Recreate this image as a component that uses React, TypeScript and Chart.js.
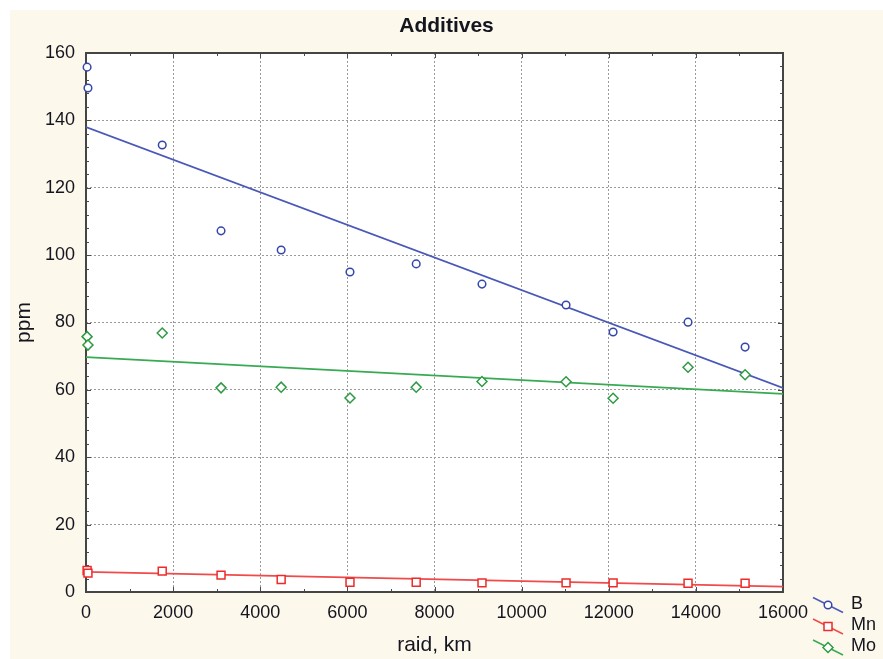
import React, { useEffect, useRef } from 'react';
import { Chart, registerables } from 'chart.js';
Chart.register(...registerables);

// ---- data ----
const raid = [25, 45, 1750, 3100, 4480, 6060, 7580, 9090, 11020, 12100, 13820, 15130];
const ppmB = [155.8, 149.6, 132.7, 107.2, 101.5, 95.0, 97.4, 91.4, 85.2, 77.2, 80.1, 72.7];
const ppmMn = [6.4, 5.6, 6.2, 5.0, 3.7, 2.9, 2.9, 2.7, 2.7, 2.7, 2.6, 2.6];
const ppmMo = [75.8, 73.3, 76.9, 60.6, 60.8, 57.6, 60.8, 62.5, 62.4, 57.5, 66.7, 64.5];
const fitRaid = [0, 16000];
const fitB = [138.0, 60.6];
const fitMn = [6.0, 1.6];
const fitMo = [69.7, 58.8];
const seriesNames = ['B', 'Mn', 'Mo'];
const xTickStep = 2000;
const yTickStep = 20;

const BLUE_PT = '#3447a8';
const BLUE_LN = '#4a58b8';
const RED_PT = '#ee2a2a';
const RED_LN = '#f04a4a';
const GREEN_PT = '#2e9a44';
const GREEN_LN = '#38aa52';
const FONT = '"Liberation Sans", Arial, sans-serif';
const TEXT = '#151520';

const pts = (ys: number[]) => ys.map((y, i) => ({ x: raid[i], y }));
const fit = (ys: number[]) => ys.map((y, i) => ({ x: fitRaid[i], y }));

function drawMarker(ctx: CanvasRenderingContext2D, style: string, x: number, y: number, color: string) {
  ctx.save();
  ctx.beginPath();
  if (style === 'circle') ctx.arc(x, y, 3.8, 0, Math.PI * 2);
  else if (style === 'rect') ctx.rect(x - 4, y - 4, 8, 8);
  else {
    ctx.moveTo(x - 5, y); ctx.lineTo(x, y - 5); ctx.lineTo(x + 5, y); ctx.lineTo(x, y + 5); ctx.closePath();
  }
  ctx.fillStyle = '#ffffff';
  ctx.fill();
  ctx.strokeStyle = color;
  ctx.lineWidth = 1.5;
  ctx.stroke();
  ctx.restore();
}

const bgPlugin = {
  id: 'bgPlugin',
  beforeDraw(chart: any) {
    const { ctx, width, height, chartArea: a } = chart;
    ctx.save();
    ctx.fillStyle = '#ffffff';
    ctx.fillRect(0, 0, width, height);
    ctx.fillStyle = '#fcf8ec';
    ctx.fillRect(10, 10, width - 10, height - 10);
    ctx.fillStyle = '#ffffff';
    ctx.fillRect(a.left, a.top, a.right - a.left, a.bottom - a.top);
    ctx.restore();
  },
  beforeDatasetsDraw(chart: any) {
    const { ctx, chartArea: a, scales } = chart;
    const xs = scales.x, ys = scales.y;
    ctx.save();
    ctx.strokeStyle = '#4a4a4a';
    ctx.lineWidth = 1;
    for (let v = 0; v <= 16000; v += 1000) {
      const px = Math.round(xs.getPixelForValue(v)) + 0.5;
      const len = v % 2000 === 0 ? 5 : 3;
      ctx.beginPath();
      ctx.moveTo(px, a.bottom); ctx.lineTo(px, a.bottom - len);
      ctx.moveTo(px, a.top); ctx.lineTo(px, a.top + len);
      ctx.stroke();
    }
    for (let v = 0; v <= 160; v += 4) {
      const py = Math.round(ys.getPixelForValue(v)) + 0.5;
      const len = v % 20 === 0 ? 5 : 3;
      ctx.beginPath();
      ctx.moveTo(a.left, py); ctx.lineTo(a.left + len, py);
      ctx.moveTo(a.right, py); ctx.lineTo(a.right - len, py);
      ctx.stroke();
    }
    ctx.strokeStyle = '#454545';
    ctx.lineWidth = 2;
    ctx.strokeRect(a.left, a.top, a.right - a.left, a.bottom - a.top);
    ctx.restore();
  },
  afterDraw(chart: any) {
    const { ctx } = chart;
    const items = [
      { ln: BLUE_LN, pt: BLUE_PT, style: 'circle', y: 605 },
      { ln: RED_LN, pt: RED_PT, style: 'rect', y: 626.5 },
      { ln: GREEN_LN, pt: GREEN_PT, style: 'diamond', y: 647.5 },
    ];
    ctx.save();
    items.forEach((it, i) => {
      ctx.strokeStyle = it.ln;
      ctx.lineWidth = 1.5;
      ctx.beginPath();
      ctx.moveTo(813, it.y - 7.5);
      ctx.lineTo(843, it.y + 7.5);
      ctx.stroke();
      drawMarker(ctx, it.style, 828, it.y, it.pt);
      ctx.fillStyle = TEXT;
      ctx.font = `18px ${FONT}`;
      ctx.textBaseline = 'middle';
      ctx.textAlign = 'left';
      ctx.fillText(seriesNames[i], 851, it.y - 1);
    });
    ctx.restore();
  },
};

export default function App() {
  const ref = useRef<HTMLCanvasElement>(null);
  useEffect(() => {
    if (!ref.current) return;
    const pointDs = (label: string, ys: number[], color: string, style: string, r: number) => ({
      label,
      data: pts(ys),
      showLine: false,
      pointStyle: style,
      pointRadius: r,
      pointBorderWidth: 1.5,
      pointBorderColor: color,
      pointBackgroundColor: '#ffffff',
      borderColor: color,
      backgroundColor: '#ffffff',
      clip: false,
      order: 0,
    });
    const lineDs = (label: string, ys: number[], color: string) => ({
      label,
      data: fit(ys),
      showLine: true,
      borderColor: color,
      borderWidth: 1.8,
      pointRadius: 0,
      fill: false,
      order: 1,
    });
    const chart = new Chart(ref.current, {
      type: 'scatter',
      data: {
        datasets: [
          lineDs('B fit', fitB, BLUE_LN),
          lineDs('Mn fit', fitMn, RED_LN),
          lineDs('Mo fit', fitMo, GREEN_LN),
          pointDs('B', ppmB, BLUE_PT, 'circle', 3.8),
          pointDs('Mn', ppmMn, RED_PT, 'rect', 5.6),
          pointDs('Mo', ppmMo, GREEN_PT, 'rectRot', 5),
        ] as any,
      },
      options: {
        animation: false,
        responsive: false,
        devicePixelRatio: 1,
        layout: { padding: { left: 10, top: 0, right: 0, bottom: 0 } },
        plugins: {
          legend: { display: false },
          tooltip: { enabled: false },
          title: {
            display: true,
            text: 'Additives',
            color: TEXT,
            font: { family: FONT, size: 21, weight: 'bold', lineHeight: 1.2 },
            padding: { top: 14, bottom: 13.8 },
          },
        },
        scales: {
          x: {
            type: 'linear',
            min: 0,
            max: 16000,
            ticks: {
              stepSize: xTickStep,
              color: TEXT,
              font: { family: FONT, size: 18 },
              padding: 10,
              callback: (v: any) => String(v),
            },
            grid: { color: '#9a9a9a', lineWidth: 1, drawTicks: false },
            border: { display: false, dash: [2, 2] },
            title: {
              display: true,
              text: 'raid, km',
              color: TEXT,
              font: { family: FONT, size: 21, lineHeight: 1.2 },
              padding: { top: 0, bottom: 1.5 },
            },
            afterFit: (s: any) => { s.height = 67; },
          },
          y: {
            type: 'linear',
            min: 0,
            max: 160,
            ticks: {
              stepSize: yTickStep,
              color: TEXT,
              font: { family: FONT, size: 18 },
              padding: 11,
            },
            grid: { color: '#9a9a9a', lineWidth: 1, drawTicks: false },
            border: { display: false, dash: [2, 2] },
            title: {
              display: true,
              text: 'ppm',
              color: TEXT,
              font: { family: FONT, size: 21, lineHeight: 1.2 },
              padding: { top: 1.5, bottom: 0 },
            },
            afterFit: (s: any) => { s.width = 76; },
          },
          y2: {
            type: 'linear',
            position: 'right',
            display: true,
            ticks: { display: false },
            grid: { display: false, drawTicks: false },
            border: { display: false },
            afterFit: (s: any) => { s.width = 100; },
          },
        },
      } as any,
      plugins: [bgPlugin],
    });
    return () => chart.destroy();
  }, []);
  return (
    <div style={{ position: 'absolute', left: 0, top: 0, width: 883, height: 659 }}>
      <canvas ref={ref} width={883} height={659} style={{ display: 'block' }} />
    </div>
  );
}
